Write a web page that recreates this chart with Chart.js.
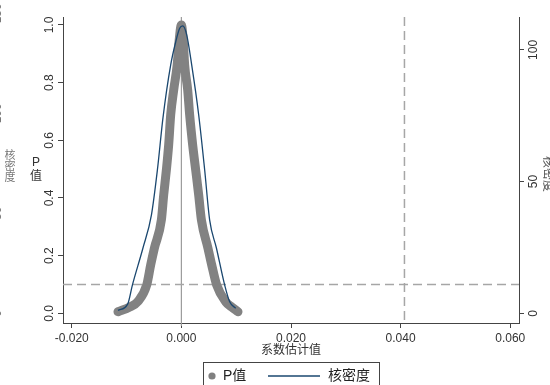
<!DOCTYPE html>
<html>
<head>
<meta charset="utf-8">
<script src="https://cdn.jsdelivr.net/npm/chart.js@4.4.1/dist/chart.umd.min.js"></script>
<style>
  html, body { margin: 0; padding: 0; background: #fff; }
</style>
</head>
<body>
<canvas id="placeboChart" width="550" height="385"></canvas>
<script>
// coefficient estimates and their p-values
const pX = [-0.01157, -0.00943, -0.00797, -0.00633, -0.00560, -0.00493, -0.00365, -0.00323, -0.00274, -0.00232,
            -0.00195, -0.00140, -0.00077, -0.00040, 0.00000,
            0.00033, 0.00060, 0.00115, 0.00151, 0.00206, 0.00261, 0.00316, 0.00365, 0.00485, 0.00553,
            0.00644, 0.00808, 0.00918, 0.01033];
const pY = [0.0055, 0.022, 0.040, 0.098, 0.168, 0.226, 0.324, 0.410, 0.497, 0.584,
            0.688, 0.775, 0.861, 0.948, 1.000,
            0.948, 0.861, 0.775, 0.688, 0.584, 0.497, 0.410, 0.324, 0.226, 0.168,
            0.098, 0.040, 0.022, 0.0055];

// kernel density of the estimates (right axis)
const kdeX = [-0.01157, -0.00980, -0.00894, -0.00701, -0.00547, -0.00438, -0.00336, -0.00195, -0.00104, -0.00031,
              0.00024, 0.00097, 0.00188, 0.00316, 0.00425, 0.00516, 0.00639, 0.00790, 0.00881, 0.00991];
const kdeY = [1.1, 3.5, 10.7, 24.8, 37.3, 54.4, 74.2, 94.3, 103.0, 108.2,
              109.1, 105.7, 94.3, 75.3, 54.4, 35.4, 24.8, 10.7, 4.4, 1.9];

const xTicks = [-0.02, 0, 0.02, 0.04, 0.06];
const pTicks = [0, 0.2, 0.4, 0.6, 0.8, 1.0];
const kdeTicks = [0, 50, 100];
const ghostTicks = [150, 100, 50, 0];   // cut-off axis of the neighbouring panel

const zeroLine = 0;
const cutoffX = 0.0407;
const cutoffP = 0.1;

const latin = "'Liberation Sans', Arial, sans-serif";
const cjk = "'Liberation Sans', 'Noto Sans CJK SC', sans-serif";

function pairs(xs, ys) {
  return xs.map((v, i) => ({ x: v, y: ys[i] }));
}

const extras = {
  id: "extras",
  beforeDatasetsDraw(chart) {
    const { ctx, chartArea: a, scales: { x, y } } = chart;
    ctx.save();
    // solid line at zero
    ctx.strokeStyle = "#9c9c9c";
    ctx.lineWidth = 1.2;
    let px = x.getPixelForValue(zeroLine);
    ctx.beginPath();
    ctx.moveTo(px, a.top);
    ctx.lineTo(px, a.bottom + 3);
    ctx.stroke();
    // dashed reference lines
    ctx.setLineDash([9, 5]);
    ctx.strokeStyle = "#a6a6a6";
    ctx.lineWidth = 1.5;
    px = x.getPixelForValue(cutoffX);
    ctx.beginPath();
    ctx.moveTo(px, a.top);
    ctx.lineTo(px, a.bottom);
    ctx.stroke();
    const py = y.getPixelForValue(cutoffP);
    ctx.beginPath();
    ctx.moveTo(a.left, py);
    ctx.lineTo(a.right, py);
    ctx.stroke();
    ctx.restore();
  },
  afterDraw(chart) {
    const { ctx, chartArea: a, scales: { y } } = chart;
    ctx.save();
    ctx.textAlign = "center";
    ctx.textBaseline = "middle";

    // left axis title, stacked
    ctx.fillStyle = "#333";
    ctx.font = "12px " + cjk;
    const midY = (a.top + a.bottom) / 2;
    ctx.fillText("P", 36, midY - 7);
    ctx.fillText("值", 36, midY + 7);

    // leftovers of the neighbouring panel at the left edge
    ctx.fillStyle = "#777";
    ctx.font = "11px " + cjk;
    ["核", "密", "度"].forEach((c, i) => ctx.fillText(c, 10, midY - 14 + i * 11));
    ctx.font = "12px " + latin;
    const zeroPx = y.getPixelForValue(0);
    ghostTicks.forEach(v => {
      ctx.save();
      ctx.translate(-2, zeroPx - v * 2);
      ctx.rotate(-Math.PI / 2);
      ctx.fillText(String(v), 0, 0);
      ctx.restore();
    });

    // right axis title, clipped by the edge
    ctx.fillStyle = "#555";
    ctx.font = "12px " + cjk;
    ctx.save();
    ctx.translate(547, midY + 4);
    ctx.rotate(Math.PI / 2);
    ctx.fillText(chart.data.datasets[1].label, 0, 0);
    ctx.restore();

    // legend box
    const boxW = 176;
    const boxL = (a.left + a.right) / 2 - boxW / 2;
    const boxT = chart.height - 23;
    const ly = boxT + 14;
    ctx.strokeStyle = "#444";
    ctx.lineWidth = 1;
    ctx.strokeRect(boxL + 0.5, boxT + 0.5, boxW, 40);

    ctx.fillStyle = "#808080";
    ctx.beginPath();
    ctx.arc(boxL + 9, ly, 3.6, 0, Math.PI * 2);
    ctx.fill();

    ctx.fillStyle = "#222";
    ctx.font = "14px " + cjk;
    ctx.textAlign = "left";
    ctx.fillText(chart.data.datasets[0].label, boxL + 20, ly);

    ctx.strokeStyle = "#1a476f";
    ctx.lineWidth = 1.3;
    ctx.beginPath();
    ctx.moveTo(boxL + 65, ly);
    ctx.lineTo(boxL + 117, ly);
    ctx.stroke();

    ctx.fillText(chart.data.datasets[1].label, boxL + 125, ly);
    ctx.restore();
  }
};

const axisColor = "#444";
const tickColor = "#333";

const config = {
  type: "scatter",
  data: {
    datasets: [
      {
        label: "P值",
        data: pairs(pX, pY),
        yAxisID: "y",
        showLine: true,
        borderColor: "#828282",
        backgroundColor: "#828282",
        borderWidth: 9,
        borderCapStyle: "round",
        borderJoinStyle: "round",
        pointRadius: 0,
        cubicInterpolationMode: "monotone",
        order: 2,
      },
      {
        label: "核密度",
        data: pairs(kdeX, kdeY),
        yAxisID: "y1",
        showLine: true,
        borderColor: "#1a476f",
        borderWidth: 1.3,
        pointRadius: 0,
        cubicInterpolationMode: "monotone",
        order: 1,
      },
    ],
  },
  options: {
    responsive: false,
    animation: false,
    layout: { padding: { top: 17, left: 0, right: 0, bottom: 0 } },
    plugins: {
      legend: { display: false },
      tooltip: { enabled: false },
    },
    scales: {
      x: {
        type: "linear",
        min: -0.0216,
        max: 0.0616,
        afterBuildTicks: s => { s.ticks = xTicks.map(v => ({ value: v })); },
        afterFit: s => { s.height = 62; },
        ticks: {
          callback: v => v.toFixed(3),
          color: tickColor,
          font: { size: 12, family: latin },
          padding: 3,
        },
        grid: { drawOnChartArea: false, drawTicks: true, tickLength: 5, color: axisColor },
        border: { color: axisColor, width: 1 },
        title: {
          display: true,
          text: "系数估计值",
          color: "#333",
          font: { size: 12, family: cjk },
          padding: { top: 0, bottom: 27 },
        },
      },
      y: {
        type: "linear",
        position: "left",
        min: -0.0336,
        max: 1.0277,
        afterBuildTicks: s => { s.ticks = pTicks.map(v => ({ value: v })); },
        afterFit: s => { s.width = 63; },
        ticks: {
          callback: v => v.toFixed(1),
          color: tickColor,
          font: { size: 12, family: latin },
          minRotation: 90,
          maxRotation: 90,
          crossAlign: "center",
          padding: 0,
        },
        grid: { drawOnChartArea: false, drawTicks: true, tickLength: 5, color: axisColor },
        border: { color: axisColor, width: 1 },
      },
      y1: {
        type: "linear",
        position: "right",
        min: -3.68,
        max: 112.5,
        afterBuildTicks: s => { s.ticks = kdeTicks.map(v => ({ value: v })); },
        afterFit: s => { s.width = 31; },
        ticks: {
          callback: v => String(v),
          color: tickColor,
          font: { size: 12, family: latin },
          minRotation: 90,
          maxRotation: 90,
          crossAlign: "center",
          padding: 0,
        },
        grid: { drawOnChartArea: false, drawTicks: true, tickLength: 5, color: axisColor },
        border: { color: axisColor, width: 1 },
      },
    },
  },
  plugins: [extras],
};

const ctx = document.getElementById("placeboChart").getContext("2d");
new Chart(ctx, config);
</script>
</body>
</html>
